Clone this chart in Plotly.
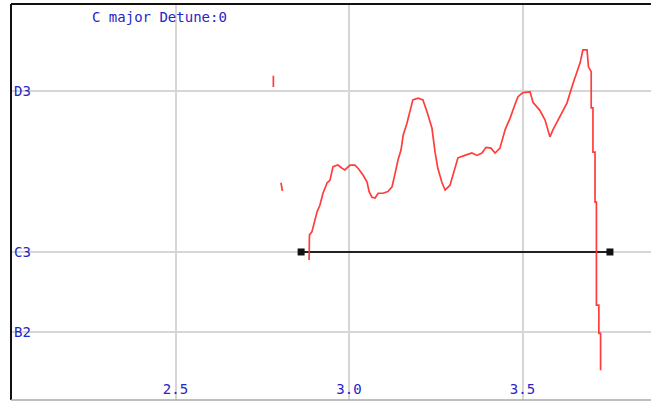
import plotly.graph_objects as go

# --- data (time in seconds, pitch in semitones; C3 = 48) ---
main_t = [2.885, 2.886, 2.893, 2.902, 2.908, 2.916, 2.925, 2.937, 2.945, 2.954,
          2.968, 2.980, 2.988, 3.003, 3.017, 3.026, 3.040, 3.052, 3.058, 3.066,
          3.075, 3.084, 3.098, 3.112, 3.124, 3.133, 3.141, 3.150, 3.156, 3.167,
          3.176, 3.184, 3.199, 3.213, 3.225, 3.239, 3.248, 3.256, 3.268, 3.277,
          3.291, 3.300, 3.314, 3.334, 3.354, 3.369, 3.383, 3.395, 3.409, 3.421,
          3.435, 3.450, 3.464, 3.478, 3.487, 3.501, 3.522, 3.530, 3.550, 3.565,
          3.579, 3.588, 3.608, 3.628, 3.646, 3.666, 3.674, 3.686, 3.690, 3.698,
          3.698, 3.703, 3.703, 3.709, 3.709, 3.713, 3.713, 3.720, 3.720, 3.725,
          3.725]
main_p = [47.90, 48.21, 48.25, 48.40, 48.50, 48.58, 48.73, 48.86, 48.89, 49.06,
          49.08, 49.04, 49.02, 49.08, 49.08, 49.04, 48.96, 48.87, 48.75, 48.68,
          48.67, 48.73, 48.73, 48.75, 48.81, 48.98, 49.14, 49.27, 49.45, 49.60,
          49.74, 49.89, 49.91, 49.89, 49.74, 49.54, 49.24, 49.04, 48.86, 48.77,
          48.83, 48.96, 49.17, 49.20, 49.23, 49.20, 49.23, 49.30, 49.29, 49.23,
          49.29, 49.52, 49.66, 49.83, 49.93, 49.98, 49.99, 49.86, 49.76, 49.64,
          49.43, 49.52, 49.68, 49.85, 50.10, 50.35, 50.51, 50.51, 50.30, 50.24,
          49.79, 49.79, 49.24, 49.24, 48.62, 48.62, 47.34, 47.34, 46.99, 46.99,
          46.53]

frag1_t = [2.782, 2.782]
frag1_p = [50.05, 50.19]
frag2_t = [2.804, 2.806, 2.808]
frag2_p = [48.86, 48.81, 48.76]

ref_t = [2.862, 3.752]
ref_p = [48.0, 48.0]

x_ticks = [2.5, 3.0, 3.5]
x_labels = ["2.5", "3.0", "3.5"]
y_ticks = [47, 48, 50]
y_labels = ["B2", "C3", "D3"]
title_text = "C major Detune:0"

RED = "rgba(255,45,45,0.92)"
BLUE = "#2626c4"
FONT = "DejaVu Sans Mono"

fig = go.Figure()
fig.add_trace(go.Scatter(x=ref_t, y=ref_p, mode="lines+markers",
                         line=dict(color="#222222", width=2),
                         marker=dict(symbol="square", size=7, color="#111111"),
                         showlegend=False))
for t, p in [(main_t, main_p), (frag1_t, frag1_p), (frag2_t, frag2_p)]:
    fig.add_trace(go.Scatter(x=t, y=p, mode="lines",
                             line=dict(color=RED, width=1.7),
                             showlegend=False))

fig.update_layout(
    width=651, height=401,
    margin=dict(l=11, r=0, t=4, b=1),
    paper_bgcolor="white", plot_bgcolor="white",
    font=dict(family=FONT, size=14, color=BLUE),
    xaxis=dict(range=[2.0259, 3.8703], tickvals=x_ticks, ticktext=x_labels,
               showgrid=True, gridcolor="#d6d6d6", gridwidth=2,
               zeroline=False, ticks="", ticklabelposition="inside",
               tickfont=dict(family=FONT, size=14, color=BLUE),
               showline=False),
    yaxis=dict(range=[46.161, 51.081], tickvals=y_ticks, ticktext=y_labels,
               showgrid=True, gridcolor="#d6d6d6", gridwidth=2,
               zeroline=False, ticks="", ticklabelposition="inside",
               tickfont=dict(family=FONT, size=14, color=BLUE),
               showline=False),
    annotations=[dict(text=title_text, xref="paper", yref="paper",
                      x=(90 - 11) / 640, y=(400 - 17) / 396,
                      xanchor="left", yanchor="middle", showarrow=False,
                      font=dict(family=FONT, size=14, color=BLUE))],
    shapes=[
        dict(type="line", xref="paper", yref="paper", x0=0, x1=1, y0=1, y1=1,
             line=dict(color="#111111", width=2)),
        dict(type="line", xref="paper", yref="paper", x0=0, x1=0, y0=0, y1=1,
             line=dict(color="#111111", width=2)),
        dict(type="line", xref="paper", yref="paper", x0=0, x1=1, y0=0, y1=0,
             line=dict(color="#aaaaaa", width=1.5)),
    ],
)

fig.write_html("out.html", config={"displayModeBar": False},
               post_script="document.body.style.margin='0';")
